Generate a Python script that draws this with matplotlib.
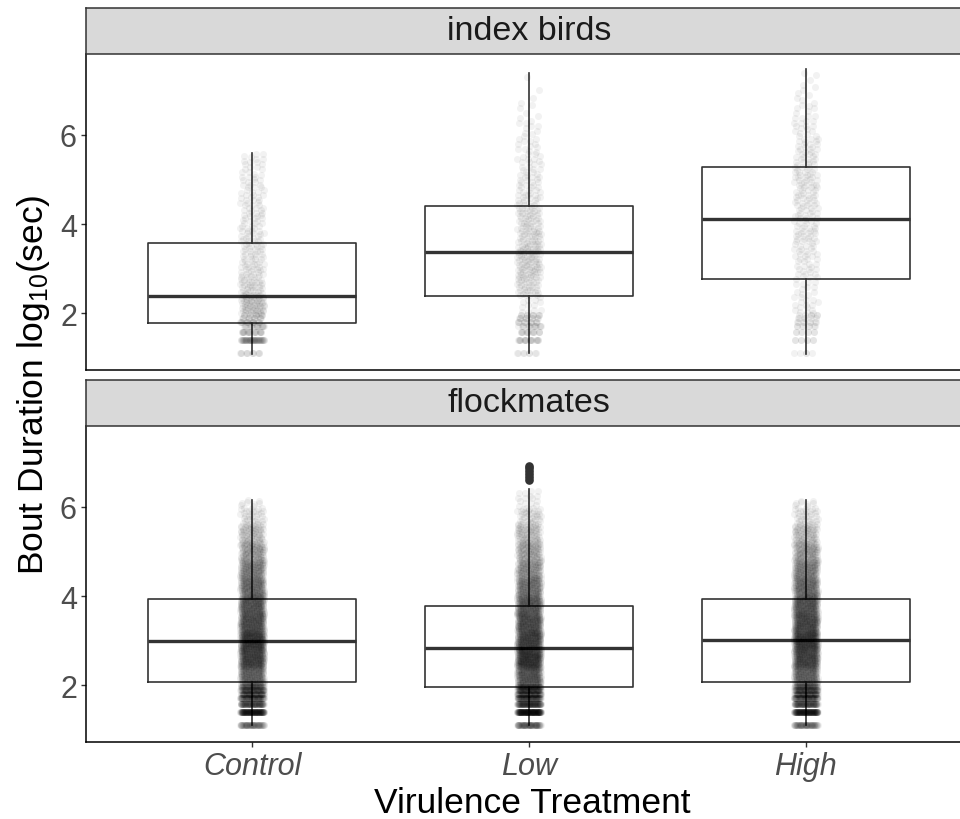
import numpy as np
import matplotlib
matplotlib.use("Agg")
import matplotlib.pyplot as plt

plt.rcParams['font.family'] = ['Liberation Sans', 'DejaVu Sans']
plt.rcParams['mathtext.fontset'] = 'custom'
plt.rcParams['mathtext.rm'] = 'Liberation Sans'
plt.rcParams['mathtext.it'] = 'Liberation Sans:italic'

# ---------------- data ----------------
treatments = ["Control", "Low", "High"]
facets = ["index birds", "flockmates"]
y_ticks = [2, 4, 6]

# box statistics (log10 seconds): [Control, Low, High]
index_q1 = [1.79, 2.39, 2.77]
index_med = [2.39, 3.37, 4.11]
index_q3 = [3.58, 4.40, 5.28]
index_whislo = [1.10, 1.11, 1.10]
index_whishi = [5.58, 7.38, 7.47]

flock_q1 = [2.08, 1.96, 2.08]
flock_med = [2.99, 2.84, 3.01]
flock_q3 = [3.94, 3.78, 3.94]
flock_whislo = [1.11, 1.11, 1.11]
flock_whishi = [6.16, 6.39, 6.15]
flock_low_outliers = [6.60, 6.67, 6.73, 6.79, 6.86, 6.92]

# jittered observations, summarised as counts
# discrete short-bout levels (log10 sec)
band_levels = [1.11, 1.41, 1.59, 1.71, 1.81, 1.89, 1.96]
# continuous bins above 2 (log10 sec)
bin_edges = [2.0, 2.4, 2.8, 3.2, 3.6, 4.0, 4.4, 4.8, 5.2, 5.6, 6.0, 6.4, 6.8, 7.2, 7.6]

index_control_band_n = [12, 50, 22, 18, 15, 12, 10]
index_control_bin_n = [65, 40, 32, 28, 25, 22, 20, 18, 15, 0, 0, 0, 0, 0]
index_low_band_n = [8, 20, 15, 15, 12, 10, 10]
index_low_bin_n = [12, 35, 45, 45, 38, 35, 25, 20, 17, 13, 10, 5, 2, 1]
index_high_band_n = [5, 8, 8, 8, 8, 6, 6]
index_high_bin_n = [16, 12, 18, 20, 25, 22, 25, 28, 22, 20, 15, 10, 6, 3]

flock_control_band_n = [60, 150, 90, 80, 70, 60, 50]
flock_control_bin_n = [200, 280, 300, 250, 230, 180, 150, 110, 70, 35, 8, 0, 0, 0]
flock_low_band_n = [70, 180, 110, 90, 80, 70, 60]
flock_low_bin_n = [230, 320, 280, 250, 220, 170, 130, 100, 70, 40, 15, 0, 0, 0]
flock_high_band_n = [60, 150, 90, 80, 70, 60, 50]
flock_high_bin_n = [200, 270, 300, 260, 230, 180, 150, 110, 70, 35, 8, 0, 0, 0]

index_max = [5.60, 7.40, 7.47]
flock_max = [6.16, 6.39, 6.15]

# ---------------- helpers ----------------
A1, A2 = 0.7548776662, 0.5698402910  # R2 low-discrepancy sequence constants


def expand(band_n, bin_n, ymax):
    ys = []
    for v, c in zip(band_levels, band_n):
        ys.extend([v] * c)
    for lo, hi, c in zip(bin_edges[:-1], bin_edges[1:], bin_n):
        if c:
            hi = min(hi, ymax)
            u = (0.5 + np.arange(c) * A2) % 1.0
            ys.extend(lo + u * (hi - lo))
    return np.asarray(ys)


def jitter(n, half=0.043):
    return ((0.5 + np.arange(n) * A1) % 1.0 * 2 - 1) * half


box_col = "#333333"

W, H = 960, 820
fig = plt.figure(figsize=(W / 100, H / 100), dpi=100)


def fx(px):
    return px / W


def fy(px):
    return 1 - px / H


left_px, right_px = 86, 972
panels = [(55, 371, 9), (427, 743, 381)]

groups = {
    0: dict(q1=index_q1, med=index_med, q3=index_q3, lo=index_whislo, hi=index_whishi,
            bands=[index_control_band_n, index_low_band_n, index_high_band_n],
            bins=[index_control_bin_n, index_low_bin_n, index_high_bin_n],
            ymax=index_max, fliers=[[], [], []]),
    1: dict(q1=flock_q1, med=flock_med, q3=flock_q3, lo=flock_whislo, hi=flock_whishi,
            bands=[flock_control_band_n, flock_low_band_n, flock_high_band_n],
            bins=[flock_control_bin_n, flock_low_bin_n, flock_high_bin_n],
            ymax=flock_max, fliers=[[], flock_low_outliers, []]),
}

for k, (top, bot, stop) in enumerate(panels):
    ax = fig.add_axes([fx(left_px), fy(bot), fx(right_px - left_px), (bot - top) / H])
    g = groups[k]
    stats = []
    for i in range(3):
        stats.append(dict(med=g["med"][i], q1=g["q1"][i], q3=g["q3"][i],
                          whislo=g["lo"][i], whishi=g["hi"][i], fliers=g["fliers"][i]))
    ax.bxp(stats, positions=[1, 2, 3], widths=0.75, showcaps=False, patch_artist=False,
           boxprops=dict(color=box_col, linewidth=1.2),
           whiskerprops=dict(color=box_col, linewidth=1.2),
           medianprops=dict(color=box_col, linewidth=2.4, solid_capstyle='butt'),
           flierprops=dict(marker='o', markerfacecolor=box_col, markeredgecolor=box_col,
                           markersize=5.2),
           zorder=2)
    for i in range(3):
        ys = expand(g["bands"][i], g["bins"][i], g["ymax"][i])
        xs = (i + 1) + jitter(len(ys))
        ax.scatter(xs, ys, s=26, color="black", alpha=0.05, linewidths=0, zorder=3)

    ax.set_xlim(0.4, 3.6)
    ax.set_ylim(0.735, 7.805)
    ax.set_yticks(y_ticks)
    ax.set_yticklabels([str(t) for t in y_ticks])
    for s in ["top", "right"]:
        ax.spines[s].set_visible(False)
    for s in ["left", "bottom"]:
        ax.spines[s].set_linewidth(1.1)
        ax.spines[s].set_color("black")
    ax.tick_params(axis='y', length=3.5, width=1.0, color=box_col, labelsize=22,
                   labelcolor="#4D4D4D", pad=3)
    ax.set_xticks([1, 2, 3])
    if k == 0:
        ax.tick_params(axis='x', length=0, labelbottom=False)
    else:
        ax.set_xticklabels(treatments, fontstyle='italic')
        ax.tick_params(axis='x', length=3.5, width=1.0, color=box_col, labelsize=22,
                       labelcolor="#4D4D4D", pad=3)

    sax = fig.add_axes([fx(left_px), fy(top), fx(right_px - left_px), (top - stop) / H])
    sax.set_facecolor("#D9D9D9")
    sax.set_xticks([])
    sax.set_yticks([])
    for s in sax.spines.values():
        s.set_color(box_col)
        s.set_linewidth(1.1)
    sax.text((529 - left_px) / (right_px - left_px), 0.5, facets[k], transform=sax.transAxes,
             ha='center', va='center', fontsize=24.5, color="#1A1A1A")

fig.text(fx(532), fy(804), "Virulence Treatment", ha='center', va='center', fontsize=25.5,
         color="black")
fig.text(fx(34), fy(385), r"Bout Duration log$_{\mathregular{10}}$(sec)", ha='center',
         va='center', rotation=90, fontsize=25.5, color="black")

fig.savefig("out.png", dpi=100)
